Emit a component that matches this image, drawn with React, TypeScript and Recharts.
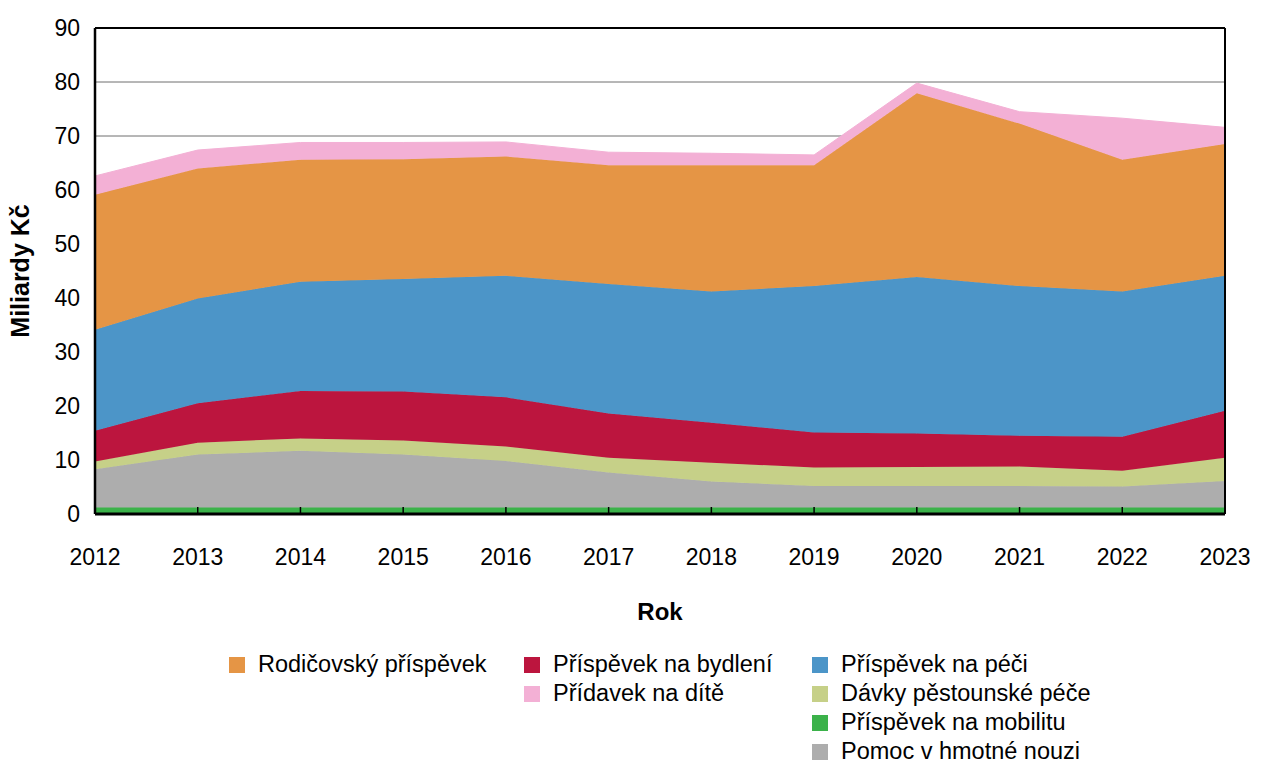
import { Area, AreaChart, CartesianGrid, ReferenceLine, XAxis, YAxis } from "recharts";

const YEARS = ["2012", "2013", "2014", "2015", "2016", "2017", "2018", "2019", "2020", "2021", "2022", "2023"];

// billions CZK (bottom to top)
const MOBILITA = [1.2, 1.2, 1.2, 1.2, 1.2, 1.2, 1.2, 1.2, 1.2, 1.2, 1.2, 1.2];
const HMOTNA_NOUZE = [7.1, 9.8, 10.5, 9.8, 8.6, 6.5, 4.8, 4.0, 4.0, 4.0, 3.9, 4.9];
const PESTOUNSKA = [1.4, 2.2, 2.3, 2.6, 2.7, 2.7, 3.5, 3.4, 3.5, 3.6, 2.9, 4.3];
const BYDLENI = [5.7, 7.3, 8.8, 9.1, 9.1, 8.2, 7.4, 6.5, 6.2, 5.7, 6.3, 8.7];
const PECE = [18.7, 19.4, 20.2, 20.8, 22.5, 24.0, 24.3, 27.1, 29.0, 27.7, 26.9, 25.0];
const RODICOVSKY = [25.0, 24.1, 22.6, 22.2, 22.1, 22.0, 23.4, 22.4, 34.0, 30.1, 24.4, 24.4];
const PRIDAVEK = [3.5, 3.4, 3.2, 3.1, 2.7, 2.4, 2.2, 1.9, 1.9, 2.2, 7.7, 3.1];

const Y_TICKS = [0, 10, 20, 30, 40, 50, 60, 70, 80, 90];

const SERIES = [
  { key: "mobilita", name: "Příspěvek na mobilitu", values: MOBILITA },
  { key: "nouze", name: "Pomoc v hmotné nouzi", values: HMOTNA_NOUZE },
  { key: "pestoun", name: "Dávky pěstounské péče", values: PESTOUNSKA },
  { key: "bydleni", name: "Příspěvek na bydlení", values: BYDLENI },
  { key: "pece", name: "Příspěvek na péči", values: PECE },
  { key: "rodic", name: "Rodičovský příspěvek", values: RODICOVSKY },
  { key: "pridavek", name: "Přídavek na dítě", values: PRIDAVEK },
];

const COLORS: Record<string, string> = {
  mobilita: "#3bb24a",
  nouze: "#adadad",
  pestoun: "#c6d088",
  bydleni: "#bc153e",
  pece: "#4c95c8",
  rodic: "#e59545",
  pridavek: "#f3b0d5",
};

// legend columns as Excel wrapped them
const LEGEND_COLUMNS = [
  ["rodic"],
  ["bydleni", "pridavek"],
  ["pece", "pestoun", "mobilita", "nouze"],
];
const LEGEND_X = [229, 524, 812];

const data = YEARS.map((year, i) => {
  const row: Record<string, string | number> = { year };
  SERIES.forEach((s) => (row[s.key] = s.values[i]));
  return row;
});

const FONT = 23;

function YearTick({ x, y, payload }: any) {
  return (
    <g>
      <line x1={x} x2={x} y1={y} y2={y - 7} stroke="#000" strokeWidth={1.5} />
      <text x={x} y={y + 51} textAnchor="middle" fontSize={FONT} fill="#000">
        {payload.value}
      </text>
    </g>
  );
}

export default function App() {
  return (
    <div
      style={{
        position: "absolute",
        left: 0,
        top: 0,
        width: 1266,
        height: 764,
        background: "#fff",
        fontFamily: "'Liberation Sans', Arial, sans-serif",
      }}
    >
      <AreaChart width={1266} height={764} data={data} margin={{ top: 28, right: 0, bottom: 140, left: 0 }}>
        <CartesianGrid vertical={false} stroke="#6f6f6f" strokeWidth={1} />
        {SERIES.map((s) => (
          <Area
            key={s.key}
            dataKey={s.key}
            name={s.name}
            stackId="a"
            type="linear"
            fill={COLORS[s.key]}
            fillOpacity={1}
            stroke={COLORS[s.key]}
            strokeWidth={1}
            isAnimationActive={false}
          />
        ))}
        <ReferenceLine y={90} stroke="#000" strokeWidth={2} />
        <YAxis
          domain={[0, 90]}
          ticks={Y_TICKS}
          width={95}
          interval={0}
          axisLine={{ stroke: "#000", strokeWidth: 2.5 }}
          tickLine={false}
          tickSize={0}
          tickMargin={15}
          tick={{ fill: "#000", fontSize: FONT }}
          label={{
            value: "Miliardy Kč",
            angle: -90,
            position: "insideLeft",
            offset: 20,
            style: { textAnchor: "middle", fontWeight: "bold", fontSize: 25, fill: "#000" },
          }}
        />
        <YAxis
          yAxisId="right"
          orientation="right"
          domain={[0, 90]}
          ticks={Y_TICKS}
          width={41}
          interval={0}
          axisLine={{ stroke: "#000", strokeWidth: 2 }}
          tickLine={false}
          tickSize={0}
          tickMargin={14}
          tick={{ fill: "#000", fontSize: FONT }}
        />
        <XAxis
          dataKey="year"
          height={110}
          interval={0}
          axisLine={{ stroke: "#000", strokeWidth: 3 }}
          tickLine={false}
          tickSize={0}
          tickMargin={0}
          tick={<YearTick />}
          label={{
            value: "Rok",
            position: "insideBottom",
            offset: 4,
            style: { fontWeight: "bold", fontSize: 24, fill: "#000" },
          }}
        />
      </AreaChart>
      {LEGEND_COLUMNS.map((col, c) =>
        col.map((key, r) => {
          const s = SERIES.find((d) => d.key === key)!;
          return (
            <div
              key={key}
              style={{
                position: "absolute",
                left: LEGEND_X[c],
                top: 650 + r * 29,
                height: 29,
                display: "flex",
                alignItems: "center",
                fontSize: 23.5,
                color: "#000",
                whiteSpace: "nowrap",
              }}
            >
              <span style={{ width: 16, height: 16, background: COLORS[key], marginRight: 13, display: "inline-block" }} />
              {s.name}
            </div>
          );
        })
      )}
    </div>
  );
}
